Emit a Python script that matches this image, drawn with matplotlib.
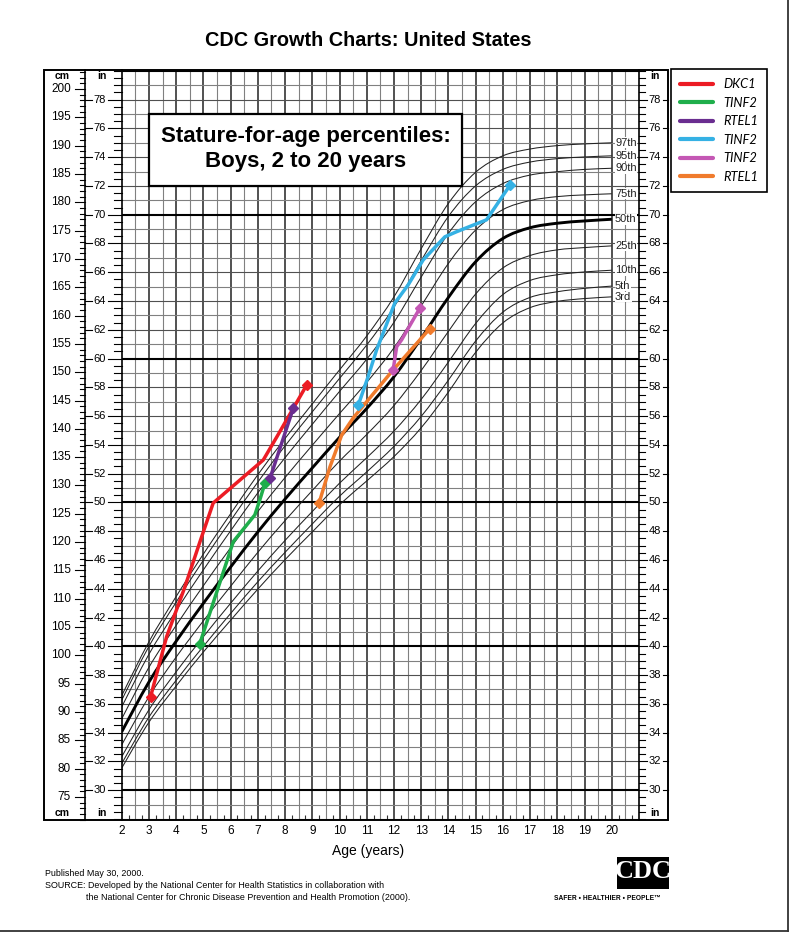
import numpy as np
from matplotlib import pyplot as plt
from matplotlib import transforms
from matplotlib.patches import Rectangle, PathPatch
from matplotlib.path import Path
from matplotlib.lines import Line2D

plt.rcParams['font.family'] = ['Liberation Sans', 'DejaVu Sans']

# CDC stature-for-age percentiles, boys (cm) at whole years
ages = list(range(2, 21))
pct_labels = ['3rd', '5th', '10th', '25th', '50th', '75th', '90th', '95th', '97th']
p3 = [80.1, 88.2, 94.6, 100.6, 106.2, 111.7, 116.9, 121.8, 126.6, 130.8, 135.1, 140.2, 146.5, 153.5, 158.7, 161.4, 162.5, 163.0, 163.3]
p5 = [80.9, 89.1, 95.6, 101.6, 107.4, 113.0, 118.2, 123.2, 128.1, 132.4, 136.9, 142.2, 148.6, 155.5, 160.6, 163.2, 164.2, 164.8, 165.2]
p10 = [82.1, 90.4, 97.1, 103.3, 109.2, 114.9, 120.3, 125.4, 130.4, 134.9, 139.6, 145.2, 151.8, 158.6, 163.7, 166.2, 167.2, 167.7, 168.0]
p25 = [84.2, 92.7, 99.7, 106.1, 112.2, 118.2, 123.8, 129.1, 134.3, 139.0, 144.1, 150.3, 157.2, 163.8, 168.4, 170.6, 171.6, 172.0, 172.3]
p50 = [86.5, 95.3, 102.5, 109.2, 115.6, 121.8, 127.6, 133.1, 138.5, 143.6, 149.2, 156.0, 163.2, 169.5, 173.6, 175.5, 176.3, 176.7, 177.0]
p75 = [88.8, 97.9, 105.3, 112.3, 119.0, 125.4, 131.4, 137.1, 142.7, 148.2, 154.3, 161.7, 169.2, 175.1, 178.7, 180.3, 181.0, 181.3, 181.5]
p90 = [90.9, 100.2, 107.9, 115.1, 122.0, 128.7, 134.9, 140.8, 146.6, 152.3, 158.8, 166.8, 174.5, 180.1, 183.3, 184.8, 185.4, 185.8, 186.0]
p95 = [92.1, 101.6, 109.4, 116.8, 123.8, 130.6, 137.0, 143.0, 148.9, 154.8, 161.5, 169.7, 177.5, 182.9, 185.8, 187.1, 187.7, 188.0, 188.2]
p97 = [92.9, 102.4, 110.4, 117.9, 125.0, 131.9, 138.3, 144.4, 150.4, 156.4, 163.3, 171.8, 179.8, 185.3, 188.2, 189.4, 190.0, 190.3, 190.5]
percentiles = [p3, p5, p10, p25, p50, p75, p90, p95, p97]

# patients (age in years, stature in cm)
dkc1_age = [3.06, 3.65, 4.3, 4.87, 5.36, 7.2, 7.7, 8.79]
dkc1_cm = [92.7, 103.3, 111.8, 120.0, 126.9, 134.5, 138.6, 147.7]
tinf2_a_age = [4.87, 6.1, 6.89, 7.07, 7.26]
tinf2_a_cm = [102.1, 120.1, 124.8, 127.4, 130.4]
rtel1_a_age = [7.45, 7.87, 8.3]
rtel1_a_cm = [131.3, 137.4, 143.6]
tinf2_b_age = [10.69, 11.05, 11.36, 12.03, 12.52, 13.07, 13.87, 14.3, 15.4, 16.26]
tinf2_b_cm = [144.2, 149.2, 153.9, 162.2, 165.4, 169.8, 173.9, 174.8, 176.9, 183.0]
tinf2_c_age = [11.97, 12.1, 12.28, 12.95]
tinf2_c_cm = [150.4, 154.5, 155.7, 161.3]
rtel1_b_age = [9.25, 9.65, 10.08, 10.5, 11.97, 13.32]
rtel1_b_cm = [126.9, 133.3, 138.9, 141.9, 150.4, 157.7]

patients = [
    ('DKC1', '#ec1c24', dkc1_age, dkc1_cm),
    ('TINF2', '#1fae4b', tinf2_a_age, tinf2_a_cm),
    ('RTEL1', '#6a2e90', rtel1_a_age, rtel1_a_cm),
    ('TINF2', '#35b1e4', tinf2_b_age, tinf2_b_cm),
    ('TINF2', '#c457b4', tinf2_c_age, tinf2_c_cm),
    ('RTEL1', '#f07b2c', rtel1_b_age, rtel1_b_cm),
]

W, H = 800, 941
fig = plt.figure(figsize=(W / 100, H / 100), dpi=100)


def fx(p):
    return p / W


def fy(p):
    return 1 - p / H


def smooth_path(xs, ys):
    # bezier path through the points (catmull-rom handles), so the curve is drawn smooth
    pts = np.column_stack([xs, ys]).astype(float)
    verts = [pts[0]]
    codes = [Path.MOVETO]
    n = len(pts)
    for i in range(n - 1):
        p0 = pts[max(i - 1, 0)]
        p1 = pts[i]
        p2 = pts[i + 1]
        p3_ = pts[min(i + 2, n - 1)]
        verts += [p1 + (p2 - p0) / 6, p2 - (p3_ - p1) / 6, p2]
        codes += [Path.CURVE4] * 3
    return Path(verts, codes)


x0, x1, ytop, ybot = 121.7, 639.0, 70.0, 820.0
ax = fig.add_axes([fx(x0), fy(ybot), (x1 - x0) / W, (ybot - ytop) / H])
ax.set_xlim(2, 21)
ax.set_ylim(70.94, 203.35)
ax.set_autoscale_on(False)
ax.axis('off')

# grid
for a in np.arange(2.5, 21, 1.0):
    ax.axvline(a, color='#808080', lw=0.8, zorder=1)
for a in range(3, 21):
    ax.axvline(a, color='#222222', lw=1.1, zorder=1)
for inch in range(28, 81):
    if inch % 10 == 0:
        ax.axhline(inch * 2.54, color='black', lw=1.5, zorder=1.2)
    else:
        ax.axhline(inch * 2.54, color='#505050' if inch % 2 == 0 else '#808080', lw=0.8, zorder=1)

# age ticks along the bottom
qt = [a for a in np.arange(2.25, 21, 0.5)]
ax.vlines(qt, 70.94, 70.94 + 0.9, color='#333333', lw=0.8, zorder=1)

# title box
ax.add_patch(Rectangle((3, 72 * 2.54), 11.5, 5 * 2.54, facecolor='white', edgecolor='black', lw=1.6, zorder=3))
ax.text(8.75, 74.55 * 2.54, 'Stature-for-age percentiles:\nBoys, 2 to 20 years', ha='center', va='center',
        fontsize=16, fontweight='bold', linespacing=1.25, zorder=4)

# percentile curves
for lab, vals in zip(pct_labels, percentiles):
    if lab == '50th':
        ax.add_patch(PathPatch(smooth_path(ages, vals), fill=False, edgecolor='black', lw=2.1, zorder=2))
    else:
        ax.add_patch(PathPatch(smooth_path(ages, vals), fill=False, edgecolor='#222222', lw=0.75, zorder=2))
    ax.text(20.12, vals[-1], lab, fontsize=8, ha='left', va='center', zorder=3, color='#222222',
            bbox=dict(facecolor='white', edgecolor='none', pad=0.2))

# patients
handles = []
for lab, col, a, c in patients:
    ln, = ax.plot(a, c, color=col, lw=2.5, solid_capstyle='round', solid_joinstyle='round', zorder=5, label=lab)
    ax.plot([a[0], a[-1]], [c[0], c[-1]], ls='none', marker='D', ms=5, color=col, zorder=6)
    handles.append(ln)

leg = fig.legend(handles=handles, loc='upper left', bbox_to_anchor=(fx(671), fy(69)), frameon=True,
                 fancybox=False, edgecolor='black', framealpha=1,
                 prop={'family': 'Lato', 'style': 'italic', 'size': 9.3},
                 handlelength=2.5, handletextpad=0.8, labelspacing=0.5, borderpad=0.72, borderaxespad=0)
leg.get_frame().set_linewidth(1.2)
for lh in leg.get_lines():
    lh.set_linewidth(3.0)

# side scales
trans = transforms.blended_transform_factory(fig.transFigure, ax.transData)
for c in range(71, 204):
    ln = 10 if c % 5 == 0 else 5
    ax.plot([fx(85 - ln), fx(85)], [c, c], transform=trans, color='black', lw=0.8, clip_on=False)
    if c % 5 == 0 and 75 <= c <= 200:
        ax.text(fx(71), c, str(c), transform=trans, ha='right', va='center', fontsize=8.5)

for h in np.arange(28, 80.5, 0.5):
    cm = h * 2.54
    if h % 2 == 0 and 30 <= h <= 78:
        ax.plot([fx(85), fx(92)], [cm, cm], transform=trans, color='black', lw=0.8, clip_on=False)
        ax.plot([fx(108), fx(121.7)], [cm, cm], transform=trans, color='black', lw=0.8, clip_on=False)
        ax.text(fx(100), cm, str(int(h)), transform=trans, ha='center', va='center', fontsize=8)
        ax.plot([fx(639), fx(647)], [cm, cm], transform=trans, color='black', lw=0.8, clip_on=False)
        ax.plot([fx(663), fx(668)], [cm, cm], transform=trans, color='black', lw=0.8, clip_on=False)
        ax.text(fx(655), cm, str(int(h)), transform=trans, ha='center', va='center', fontsize=8)
    else:
        ax.plot([fx(114), fx(121.7)], [cm, cm], transform=trans, color='black', lw=0.8, clip_on=False)
        ax.plot([fx(639), fx(645)], [cm, cm], transform=trans, color='black', lw=0.8, clip_on=False)

for x, y, s in [(62, 76, 'cm'), (102, 76, 'in'), (655, 76, 'in'), (62, 813, 'cm'), (102, 813, 'in'), (655, 813, 'in')]:
    fig.text(fx(x), fy(y), s, ha='center', va='center', fontsize=7.5, fontweight='bold')

# frame
fig.add_artist(Rectangle((fx(44), fy(820)), (668 - 44) / W, 750 / H, fill=False, lw=1.4, edgecolor='black',
                         transform=fig.transFigure))
for xp in [85, 121.7, 639]:
    fig.add_artist(Line2D([fx(xp), fx(xp)], [fy(70), fy(820)], color='black', lw=1.2))

# page border
fig.add_artist(Line2D([fx(788), fx(788)], [fy(0), fy(931)], color='#333333', lw=1.3))
fig.add_artist(Line2D([0, fx(788)], [fy(931), fy(931)], color='#333333', lw=1.3))

# x labels
xtrans = transforms.blended_transform_factory(ax.transData, fig.transFigure)
for a in ages:
    ax.text(a, fy(831), str(a), transform=xtrans, ha='center', va='center', fontsize=8.5)
fig.text(fx(368), fy(851), 'Age (years)', ha='center', va='center', fontsize=10)

fig.text(0.5 * (207 + 530) / W, fy(40), 'CDC Growth Charts: United States', ha='center', va='center',
         fontsize=14.3, fontweight='bold')

# footer
fig.text(fx(45), fy(873), 'Published May 30, 2000.', fontsize=6.4, va='center')
fig.text(fx(45), fy(885), 'SOURCE: Developed by the National Center for Health Statistics in collaboration with',
         fontsize=6.4, va='center')
fig.text(fx(86), fy(897), 'the National Center for Chronic Disease Prevention and Health Promotion (2000).',
         fontsize=6.4, va='center')

# CDC logo
fig.add_artist(Rectangle((fx(617), fy(889)), 52 / W, 32 / H, facecolor='black', edgecolor='none',
                         transform=fig.transFigure))
fig.text(fx(643), fy(872), 'CDC', ha='center', va='center', fontsize=19, fontweight='bold', color='white',
         family='Liberation Serif')
fig.text(fx(607), fy(898), 'SAFER \u2022 HEALTHIER \u2022 PEOPLE\u2122', ha='center', va='center', fontsize=4.8,
         fontweight='bold')

plt.savefig('out.png', dpi=100)
plt.close()
